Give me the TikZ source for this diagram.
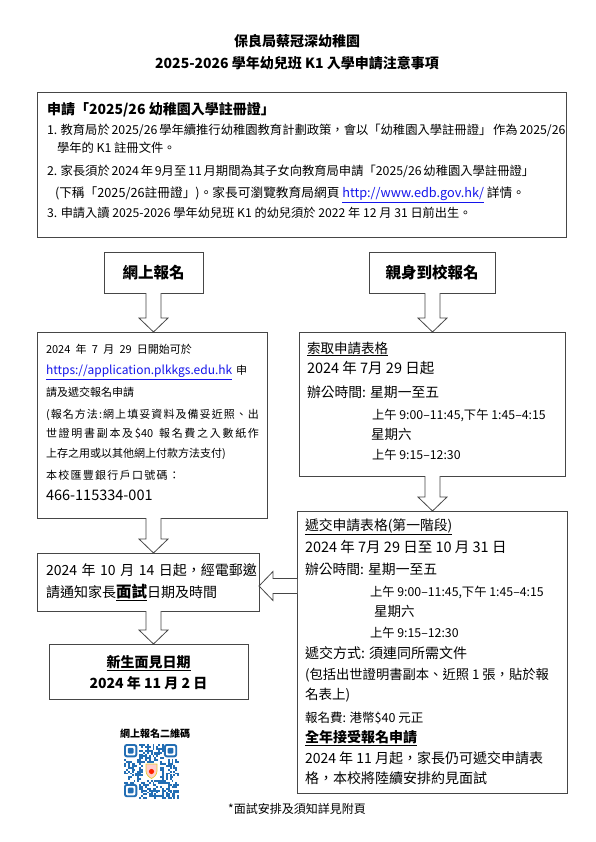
\documentclass[tikz,border=0pt]{standalone}
\usepackage{fontspec}
\setmainfont{Noto Sans CJK TC}
\usetikzlibrary{calc}
\newcommand\fs[1]{\fontsize{#1}{#1}\selectfont}
\definecolor{linkblue}{RGB}{20,20,235}
\definecolor{qrblue}{RGB}{35,110,180}
\definecolor{boxline}{RGB}{70,70,70}
\newcommand\ulink[1]{\textcolor{linkblue}{\underline{#1}}}
\makeatletter
\def\spr@end{\spr@end}
\def\spr@loop#1{\ifx#1\spr@end\else\hskip0pt plus 1fil\relax#1\expandafter\spr@loop\fi}
\def\spr@first#1{#1\spr@loop}
\newcommand\spreadto[2]{\makebox[#1][s]{\spr@first#2\spr@end}}
\makeatother
\def\dollarforty{\$40}
\tikzset{
  boxrect/.style={draw=boxline, line width=0.8pt, inner sep=0pt, outer sep=0pt, anchor=north west},
  tl/.style={anchor=base west, inner sep=0pt, outer sep=0pt},
  tc/.style={anchor=base, inner sep=0pt, outer sep=0pt},
  blockarr/.style={draw=boxline, line width=0.8pt, fill=white, line join=miter}
}
% block arrow from #1 to #2
\newcommand\barrow[2]{%
  \coordinate (bh) at ($(#2)!14pt!(#1)$);
  \draw[blockarr] ($(#1)!7.5pt!90:(#2)$) -- ($(bh)!7.5pt!90:(#2)$) -- ($(bh)!14.5pt!90:(#2)$) -- (#2)
     -- ($(bh)!14.5pt!-90:(#2)$) -- ($(bh)!7.5pt!-90:(#2)$) -- ($(#1)!7.5pt!-90:(#2)$);
}
\begin{document}
\begin{tikzpicture}[x=1pt,y=-1pt]
\fill[white] (0,0) rectangle (595,842);
\useasboundingbox (0,0) rectangle (595,842);

% Title
\node[tc] (title1) at (297,47) {\fs{14}\bfseries 保良局蔡冠深幼稚園};
\node[tc] (title2) at (297,69) {\fs{14}\bfseries 2025-2026 學年幼兒班 K1 入學申請注意事項};

% Boxes
\node[boxrect, minimum width=529pt, minimum height=145pt] (top) at (37,92) {};
\node[boxrect, minimum width=99pt, minimum height=41pt] (onl) at (104,252) {};
\node[boxrect, minimum width=126pt, minimum height=41pt] (ins) at (369,252) {};
\node[boxrect, minimum width=230pt, minimum height=186pt] (b2) at (37,332) {};
\node[boxrect, minimum width=266pt, minimum height=144pt] (r1) at (299,332) {};
\node[boxrect, minimum width=270pt, minimum height=282pt] (r2) at (297,511) {};
\node[boxrect, minimum width=222pt, minimum height=58pt] (b3) at (37,553) {};
\node[boxrect, minimum width=199pt, minimum height=55pt] (b4) at (49,644) {};

\node[inner sep=0pt] (onlt) at (onl.center) {\fs{15.5}\bfseries 網上報名};
\node[inner sep=0pt] (inst) at (ins.center) {\fs{15.5}\bfseries 親身到校報名};

% Top box text
\node[tl] (th) at (47,115) {\fs{14}\bfseries 申請「2025/26 幼稚園入學註冊證」};
\node[tl] (t1) at (47,134.6) {\fs{12.3}\makebox[511pt][s]{1. 教育局於 2025/26 學年續推行幼稚園教育計劃政策，會以「幼稚園入學註冊證」 作為 2025/26}};
\node[tl] (t1b) at (57,152.6) {\fs{12.3}學年的 K1 註冊文件。};
\node[tl] (t2) at (47,175.6) {\fs{12.3}\makebox[485pt][s]{2. 家長須於 2024 年 9月至 11 月期間為其子女向教育局申請「2025/26 幼稚園入學註冊證」}};
\node[tl] (t2b) at (55,197.6) {\fs{12.7}(下稱「2025/26註冊證」)。家長可瀏覽教育局網頁 \ulink{http://www.edb.gov.hk/} 詳情。};
\node[tl] (t3) at (47,217.6) {\fs{12.2}3. 申請入讀 2025-2026 學年幼兒班 K1 的幼兒須於 2022 年 12 月 31 日前出生。};

% Left box 2 text
\node[tl] (l1) at (46,353.5) {\fs{11}\makebox[146pt][s]{2024 年 7 月 29 日開始可於}};
\node[tl] (l2) at (46,374.5) {\makebox[201pt][s]{\fs{12}\ulink{https://application.plkkgs.edu.hk} {\fs{11}申}}};
\node[tl] (l3) at (46,396) {\fs{11}請及遞交報名申請};
\node[tl] (l4) at (46,418) {\fs{11}\spreadto{213pt}{(報名方法:網上填妥資料及備妥近照、出}};
\node[tl] (l5) at (46,437.5) {\fs{11}\spreadto{213pt}{世證明書副本及\dollarforty~報名費之入數紙作}};
\node[tl] (l6) at (46,457.5) {\fs{11}上存之用或以其他網上付款方法支付)};
\node[tl] (l7) at (46,479) {\fs{11}\spreadto{134pt}{本校匯豐銀行戶口號碼：}};
\node[tl] (l8) at (46,500.5) {\fs{14.5}466-115334-001};

% Right box 1 text
\node[tl] (a1) at (307,353) {\fs{13.5}\underline{索取申請表格}};
\node[tl] (a2) at (307,373.5) {\fs{14.5}2024 年 7月 29 日起};
\node[tl] (a3) at (307,397) {\fs{13.8}辦公時間: 星期一至五};
\node[tl] (a4) at (372,419) {\fs{12.3}上午 9:00–11:45,下午 1:45–4:15};
\node[tl] (a5) at (371,439) {\fs{13.5}星期六};
\node[tl] (a6) at (372,459) {\fs{12.3}上午 9:15–12:30};

% Right box 2 text
\node[tl] (c1) at (305,530) {\fs{13.8}\underline{遞交申請表格(第一階段)}};
\node[tl] (c2) at (305,552.5) {\fs{14.5}2024 年 7月 29 日至 10 月 31 日};
\node[tl] (c3) at (305,574) {\fs{13.8}辦公時間: 星期一至五};
\node[tl] (c4) at (370,596) {\fs{12.3}上午 9:00–11:45,下午 1:45–4:15};
\node[tl] (c5) at (374,616) {\fs{13.5}星期六};
\node[tl] (c6) at (370,637) {\fs{12.3}上午 9:15–12:30};
\node[tl] (c7) at (305,658) {\fs{14}遞交方式: 須連同所需文件};
\node[tl] (c8) at (305,679) {\fs{13.3}(包括出世證明書副本、近照 1 張，貼於報};
\node[tl] (c9) at (305,699) {\fs{13.5}名表上)};
\node[tl] (c10) at (305,722.5) {\fs{12.5}報名費: 港幣\$40 元正};
\node[tl] (c11) at (305,742) {\fs{14}\bfseries\underline{全年接受報名申請}};
\node[tl] (c12) at (305,763) {\fs{14}2024 年 11 月起，家長仍可遞交申請表};
\node[tl] (c13) at (305,783) {\fs{14}格，本校將陸續安排約見面試};

% Box 3 text
\node[tl] (d1) at (46,575) {\fs{14}\makebox[211pt][s]{2024 年 10 月 14 日起，經電郵邀}};
\node[tl] (d2) at (46,597) {\fs{14}請通知家長{\fs{15.5}\bfseries\underline{面試}}日期及時間};

% Box 4 text
\node[tc] (e1) at (148.5,667) {\fs{14}\bfseries\underline{新生面見日期}};
\node[tc] (e2) at (148.5,688) {\fs{14}\bfseries 2024 年 11 月 2 日};

% Arrows
\coordinate (lx) at (153.5,0);
\coordinate (rx) at (432.5,0);
\coordinate (ay) at (0,586);
\coordinate (p1) at (lx |- onl.south); \coordinate (q1) at (lx |- b2.north);
\coordinate (p2) at (lx |- b2.south);  \coordinate (q2) at (lx |- b3.north);
\coordinate (p3) at (lx |- b3.south);  \coordinate (q3) at (lx |- b4.north);
\coordinate (p4) at (rx |- ins.south); \coordinate (q4) at (rx |- r1.north);
\coordinate (p5) at (rx |- r1.south);  \coordinate (q5) at (rx |- r2.north);
\coordinate (p6) at (r2.west |- ay);   \coordinate (q6) at (b3.east |- ay);
\barrow{p1}{q1}
\barrow{p2}{q2}
\barrow{p3}{q3}
\barrow{p4}{q4}
\barrow{p5}{q5}
\barrow{p6}{q6}

% QR label and code
\node[tc] (qrl) at (155,737) {\fs{10}\bfseries 網上報名二維碼};
\pgfmathsetseed{12}
\foreach \i in {0,...,28}{\foreach \j in {0,...,28}{
  \pgfmathtruncatemacro\qr{rnd<0.5}
  \pgfmathtruncatemacro\qs{(\i<8 && \j<8) || (\i>20 && \j<8) || (\i<8 && \j>20) || (\i>9 && \i<19 && \j>9 && \j<19)}
  \ifnum\qr=1 \ifnum\qs=0 \fill[qrblue] (124+\i*1.9,744+\j*1.9) rectangle ++(1.9,1.9); \fi\fi
}}
\foreach \px/\py in {124/744, 163.9/744, 124/783.9}{
  \draw[qrblue, line width=1.9pt, rounded corners=2pt] (\px+0.95,\py+0.95) rectangle ++(11.4,11.4);
  \fill[qrblue, rounded corners=1pt] (\px+3.8,\py+3.8) rectangle ++(5.7,5.7);
}
\draw[fill=red!20, draw=yellow!60!brown, line width=0.7pt] (146,764) -- (157,764) -- (157,771) .. controls (157,775) and (153.5,777.5) .. (151.5,778.5) .. controls (149.5,777.5) and (146,775) .. (146,771) -- cycle;
\fill[red!75!orange] (151.5,771.5) circle (2.6);

% Footer
\node[tc] (foot) at (297,813.5) {\fs{12}*面試安排及須知詳見附頁};
\end{tikzpicture}
\end{document}
